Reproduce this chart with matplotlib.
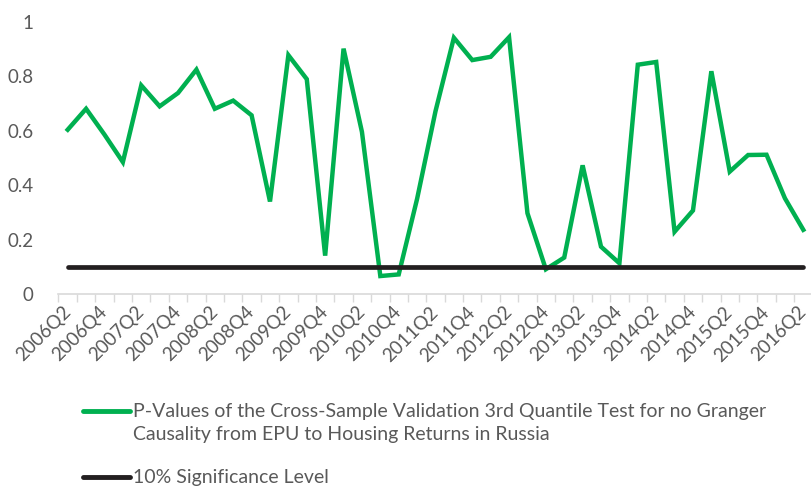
import numpy as np
import matplotlib.pyplot as plt
from matplotlib.lines import Line2D

plt.rcParams['font.family'] = ['Lato', 'DejaVu Sans']

quarters = []
for year in range(2006, 2017):
    for q in range(1, 5):
        quarters.append(f"{year}Q{q}")
quarters = quarters[1:42]  # 2006Q2 .. 2016Q2

pvalues = [0.604, 0.681, 0.586, 0.485, 0.767, 0.690, 0.739, 0.825, 0.681, 0.711,
           0.657, 0.340, 0.878, 0.790, 0.141, 0.902, 0.596, 0.066, 0.072, 0.350,
           0.672, 0.942, 0.860, 0.872, 0.944, 0.297, 0.091, 0.134, 0.473, 0.174,
           0.113, 0.843, 0.853, 0.229, 0.307, 0.819, 0.450, 0.511, 0.512, 0.352,
           0.236]
signif = [0.1] * len(quarters)

label_p = ("P-Values of the Cross-Sample Validation 3rd Quantile Test for no Granger\n"
           "Causality from EPU to Housing Returns in Russia")
label_s = "10% Significance Level"

green = "#00b050"
black = "#231f20"
gray = "#595959"
W, H = 812, 487

fig = plt.figure(figsize=(8.12, 4.87), dpi=100)
ax = fig.add_axes([58.5 / W, 1 - 294 / H, 754 / W, 272 / H])

x = np.arange(len(quarters))
ax.plot(x, pvalues, color=green, linewidth=3.2, solid_joinstyle="miter")
ax.plot(x, signif, color=black, linewidth=3.4, solid_capstyle="round")

ax.set_xlim(-0.5, len(quarters) - 0.5)
ax.set_ylim(0, 1)
ax.set_yticks([0, 0.2, 0.4, 0.6, 0.8, 1])
ax.set_yticklabels(["0", "0.2", "0.4", "0.6", "0.8", "1"])
ax.tick_params(axis="y", length=0, pad=18, labelcolor=gray, labelsize=13.5)

ax.set_xticks(x[::2])
ax.set_xticklabels(quarters[::2], rotation=45, ha="right", rotation_mode="anchor",
                   va="center")
ax.set_xticks(np.arange(-0.5, len(quarters), 1), minor=True)
ax.tick_params(axis="x", which="major", length=0, pad=11, labelcolor=gray, labelsize=13.5)
ax.tick_params(axis="x", which="minor", length=6, width=1, color="#d9d9d9")

for s in ["top", "right", "left"]:
    ax.spines[s].set_visible(False)
ax.spines["bottom"].set_color("#d9d9d9")
ax.spines["bottom"].set_linewidth(1.2)

# legend below the chart, drawn by hand to match the wrapped layout
fig.add_artist(Line2D([83 / W, 130 / W], [1 - 411 / H] * 2, color=green, linewidth=3.5,
                      solid_capstyle="round"))
fig.add_artist(Line2D([83 / W, 130 / W], [1 - 476.5 / H] * 2, color=black, linewidth=3.5,
                      solid_capstyle="round"))
fig.text(133 / W, 1 - 403 / H, label_p, color=gray, fontsize=14, ha="left", va="top",
         linespacing=1.45)
fig.text(133 / W, 1 - 476.5 / H, label_s, color=gray, fontsize=14, ha="left",
         va="center_baseline")

fig.savefig("out.png", dpi=100)
